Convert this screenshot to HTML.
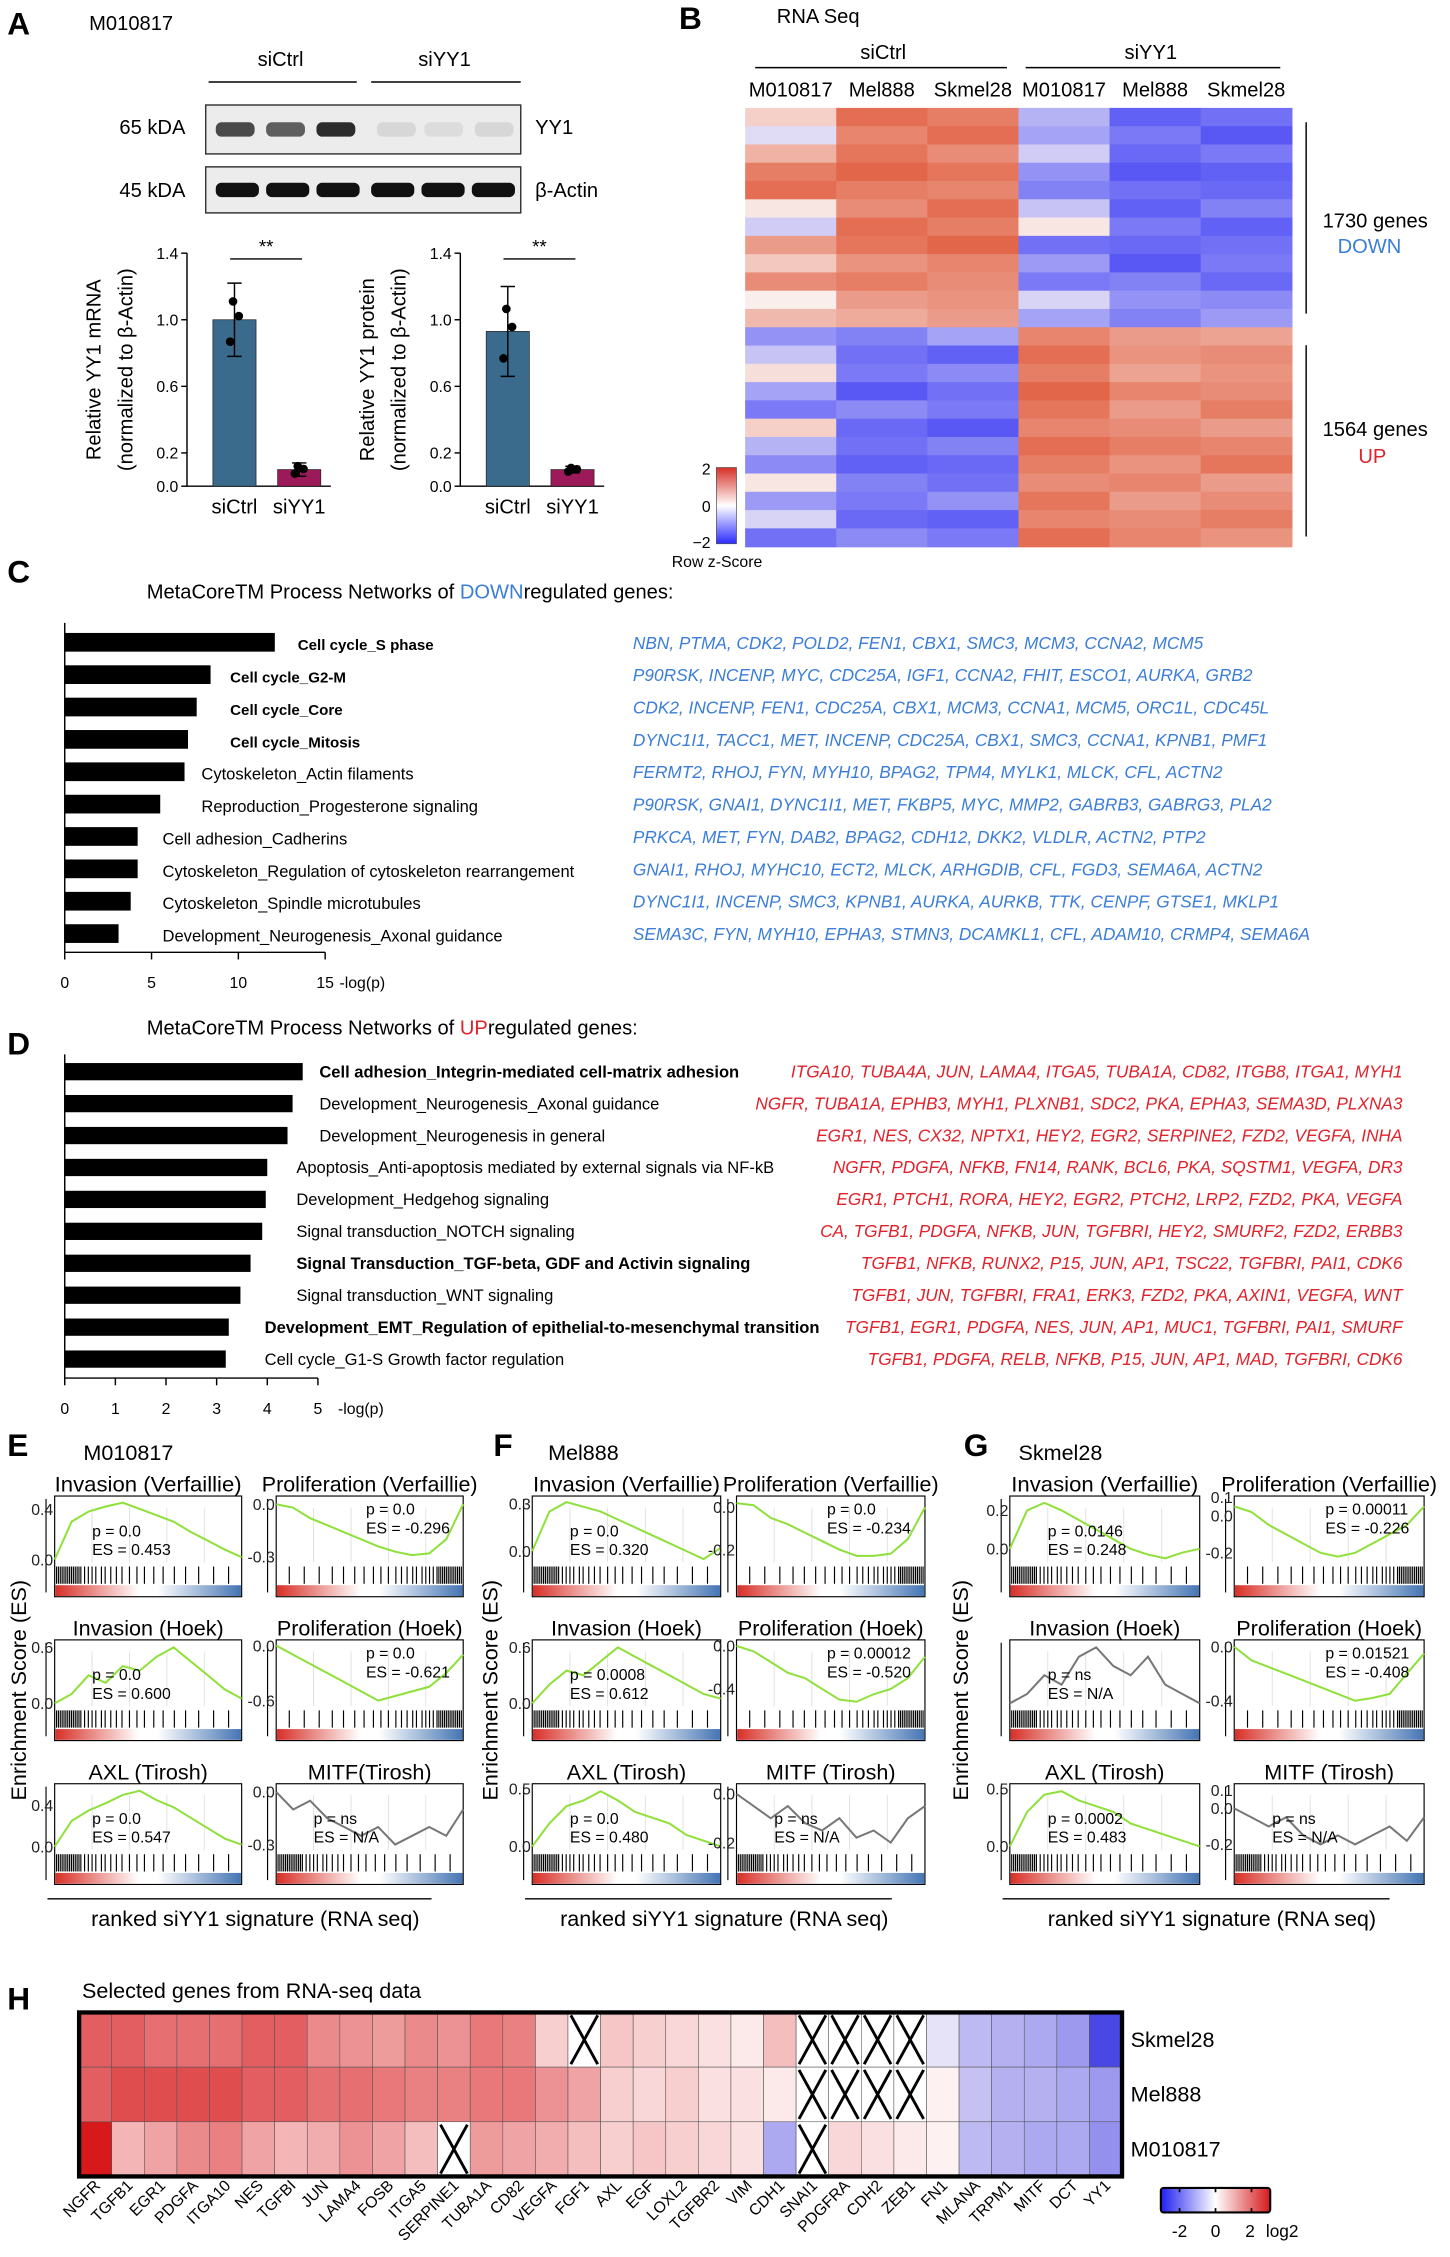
<!DOCTYPE html>
<html><head><meta charset="utf-8"><style>
html,body{margin:0;padding:0;background:#fff}
svg{display:block;font-family:"Liberation Sans",sans-serif}
</style></head><body>
<svg id="fig" width="1450" height="2257" viewBox="0 0 1008 1569" xmlns="http://www.w3.org/2000/svg">
<defs>
<linearGradient id="rankGrad" x1="0" x2="1" y1="0" y2="0"><stop offset="0" stop-color="#d73027"/><stop offset="0.45" stop-color="#ffffff"/><stop offset="0.55" stop-color="#ffffff"/><stop offset="1" stop-color="#4575b4"/></linearGradient>
<linearGradient id="zGrad" x1="0" x2="0" y1="0" y2="1"><stop offset="0" stop-color="#d73027"/><stop offset="0.5" stop-color="#ffffff"/><stop offset="1" stop-color="#2b2bff"/></linearGradient>
<linearGradient id="hGrad" x1="0" x2="1" y1="0" y2="0"><stop offset="0" stop-color="#2020f0"/><stop offset="0.5" stop-color="#ffffff"/><stop offset="1" stop-color="#d7191c"/></linearGradient>
</defs>
<g id="root"></g>
</svg>
<script>
// ---------- data ----------
const barCats = ['siCtrl','siYY1'];
const mrnaVals = [1.0, 0.1];
const mrnaErr = [0.22, 0.04];
const protVals = [0.93, 0.1];
const protErr = [0.27, 0.02];
const barTicks = [0.0, 0.2, 0.6, 1.0, 1.4];

const rnaCols = ['M010817','Mel888','Skmel28','M010817','Mel888','Skmel28'];
const rnaRows = [
[0.5,1.8,1.6,-0.8,-1.8,-1.6],[-0.3,1.5,1.8,-1.0,-1.5,-1.9],[0.9,1.7,1.4,-0.5,-1.7,-1.5],
[1.6,1.9,1.7,-1.2,-1.9,-1.8],[1.8,1.6,1.5,-1.4,-1.6,-1.7],[0.2,1.4,1.8,-0.6,-1.8,-1.4],
[-0.5,1.8,1.6,0.2,-1.5,-1.8],[1.2,1.7,1.9,-1.6,-1.7,-1.6],[0.6,1.3,1.5,-1.1,-1.9,-1.5],
[1.4,1.6,1.4,-1.5,-1.4,-1.7],[0.1,1.2,1.3,-0.4,-1.2,-1.3],[0.8,1.0,1.2,-1.0,-1.4,-1.1],
[-1.2,-1.4,-1.0,1.5,1.2,1.1],[-0.6,-1.6,-1.8,1.8,1.3,1.4],[0.3,-1.5,-1.3,1.6,1.1,1.3],
[-1.0,-1.9,-1.6,1.9,1.5,1.4],[-1.5,-1.3,-1.5,1.7,1.2,1.6],[0.5,-1.7,-1.9,1.5,1.4,1.2],
[-0.8,-1.6,-1.4,1.8,1.6,1.5],[-1.3,-1.8,-1.7,1.6,1.3,1.7],[0.2,-1.4,-1.6,1.4,1.5,1.2],
[-1.1,-1.5,-1.2,1.7,1.2,1.4],[-0.4,-1.7,-1.8,1.5,1.4,1.6],[-1.6,-1.3,-1.5,1.8,1.5,1.3]
];

const downCats = ['Cell cycle_S phase','Cell cycle_G2-M','Cell cycle_Core','Cell cycle_Mitosis','Cytoskeleton_Actin filaments','Reproduction_Progesterone signaling','Cell adhesion_Cadherins','Cytoskeleton_Regulation of cytoskeleton rearrangement','Cytoskeleton_Spindle microtubules','Development_Neurogenesis_Axonal guidance'];
const downVals = [12.1, 8.4, 7.6, 7.1, 6.9, 5.5, 4.2, 4.2, 3.8, 3.1];
const downGenes = ['NBN, PTMA, CDK2, POLD2, FEN1, CBX1, SMC3, MCM3, CCNA2, MCM5','P90RSK, INCENP, MYC, CDC25A, IGF1, CCNA2, FHIT, ESCO1, AURKA, GRB2','CDK2, INCENP, FEN1, CDC25A, CBX1, MCM3, CCNA1, MCM5, ORC1L, CDC45L','DYNC1I1, TACC1, MET, INCENP, CDC25A, CBX1, SMC3, CCNA1, KPNB1, PMF1','FERMT2, RHOJ, FYN, MYH10, BPAG2, TPM4, MYLK1, MLCK, CFL, ACTN2','P90RSK, GNAI1, DYNC1I1, MET, FKBP5, MYC, MMP2, GABRB3, GABRG3, PLA2','PRKCA, MET, FYN, DAB2, BPAG2, CDH12, DKK2, VLDLR, ACTN2, PTP2','GNAI1, RHOJ, MYHC10, ECT2, MLCK, ARHGDIB, CFL, FGD3, SEMA6A, ACTN2','DYNC1I1, INCENP, SMC3, KPNB1, AURKA, AURKB, TTK, CENPF, GTSE1, MKLP1','SEMA3C, FYN, MYH10, EPHA3, STMN3, DCAMKL1, CFL, ADAM10, CRMP4, SEMA6A'];
const downBold = [1,1,1,1,0,0,0,0,0,0];
const downTicks = [0,5,10,15];

const upCats = ['Cell adhesion_Integrin-mediated cell-matrix adhesion','Development_Neurogenesis_Axonal guidance','Development_Neurogenesis in general','Apoptosis_Anti-apoptosis mediated by external signals via NF-kB','Development_Hedgehog signaling','Signal transduction_NOTCH signaling','Signal Transduction_TGF-beta, GDF and Activin signaling','Signal transduction_WNT signaling','Development_EMT_Regulation of epithelial-to-mesenchymal transition','Cell cycle_G1-S Growth factor regulation'];
const upVals = [4.7, 4.5, 4.4, 4.0, 3.97, 3.9, 3.67, 3.47, 3.24, 3.18];
const upGenes = ['ITGA10, TUBA4A, JUN, LAMA4, ITGA5, TUBA1A, CD82, ITGB8, ITGA1, MYH1','NGFR, TUBA1A, EPHB3, MYH1, PLXNB1, SDC2, PKA, EPHA3, SEMA3D, PLXNA3','EGR1, NES, CX32, NPTX1, HEY2, EGR2, SERPINE2, FZD2, VEGFA, INHA','NGFR, PDGFA, NFKB, FN14, RANK, BCL6, PKA, SQSTM1, VEGFA, DR3','EGR1, PTCH1, RORA, HEY2, EGR2, PTCH2, LRP2, FZD2, PKA, VEGFA','CA, TGFB1, PDGFA, NFKB, JUN, TGFBRI, HEY2, SMURF2, FZD2, ERBB3','TGFB1, NFKB, RUNX2, P15, JUN, AP1, TSC22, TGFBRI, PAI1, CDK6','TGFB1, JUN, TGFBRI, FRA1, ERK3, FZD2, PKA, AXIN1, VEGFA, WNT','TGFB1, EGR1, PDGFA, NES, JUN, AP1, MUC1, TGFBRI, PAI1, SMURF','TGFB1, PDGFA, RELB, NFKB, P15, JUN, AP1, MAD, TGFBRI, CDK6'];
const upBold = [1,0,0,0,0,0,1,0,1,0];
const upLabelX = [222,222,222,206,206,206,206,206,184,184];
const upTicks = [0,1,2,3,4,5];

const gseaTitles = ['Invasion (Verfaillie)','Proliferation (Verfaillie)','Invasion (Hoek)','Proliferation (Hoek)','AXL (Tirosh)','MITF(Tirosh)'];
const gseaP = [['0.0','0.0','0.0','0.0','0.0','ns'],['0.0','0.0','0.0008','0.00012','0.0','ns'],['0.0146','0.00011','ns','0.01521','0.0002','ns']];
const gseaES = [['0.453','-0.296','0.600','-0.621','0.547','N/A'],['0.320','-0.234','0.612','-0.520','0.480','N/A'],['0.248','-0.226','N/A','-0.408','0.483','N/A']];
const gseaCurves = [
 [[0,0.3,0.38,0.42,0.45,0.40,0.35,0.30,0.22,0.15,0.08,0.02],
  [0,-0.02,-0.08,-0.12,-0.16,-0.20,-0.24,-0.27,-0.29,-0.28,-0.2,0],
  [0,0.1,0.3,0.22,0.4,0.35,0.5,0.6,0.45,0.3,0.15,0.05],
  [0,-0.1,-0.2,-0.3,-0.4,-0.5,-0.6,-0.55,-0.5,-0.45,-0.3,-0.1],
  [0,0.25,0.35,0.42,0.5,0.54,0.45,0.38,0.28,0.18,0.08,0.02],
  [0,-0.1,-0.05,-0.15,-0.2,-0.25,-0.2,-0.3,-0.25,-0.2,-0.25,-0.1]],
 [[0,0.25,0.31,0.28,0.25,0.2,0.15,0.1,0.05,0,-0.05,0.02],
  [0.02,0.01,-0.05,-0.08,-0.12,-0.16,-0.2,-0.23,-0.23,-0.22,-0.15,0],
  [0,0.2,0.35,0.3,0.45,0.6,0.5,0.4,0.3,0.2,0.1,0.05],
  [0,-0.05,-0.15,-0.25,-0.3,-0.4,-0.5,-0.52,-0.45,-0.4,-0.3,-0.1],
  [0,0.2,0.35,0.4,0.48,0.4,0.3,0.25,0.2,0.1,0.05,0],
  [0,-0.05,-0.1,-0.05,-0.12,-0.15,-0.1,-0.18,-0.15,-0.2,-0.1,-0.05]],
 [[0,0.2,0.24,0.2,0.15,0.1,0.05,0,-0.03,-0.05,-0.02,0],
  [0.05,0.02,-0.05,-0.1,-0.15,-0.2,-0.22,-0.2,-0.15,-0.1,-0.05,0.05],
  [0,0.1,0.3,0.2,0.5,0.6,0.4,0.3,0.5,0.2,0.1,0],
  [0,-0.1,-0.15,-0.2,-0.25,-0.3,-0.35,-0.4,-0.38,-0.35,-0.2,-0.05],
  [0,0.3,0.45,0.48,0.4,0.35,0.3,0.2,0.15,0.1,0.05,0],
  [0,-0.05,-0.1,-0.05,-0.15,-0.2,-0.15,-0.2,-0.15,-0.1,-0.18,-0.05]]];
const gseaRange = [
 [[-0.02,0.48],[-0.33,0.03],[-0.03,0.65],[-0.66,0.03],[-0.03,0.58],[-0.33,0.03]],
 [[-0.07,0.33],[-0.26,0.04],[-0.03,0.65],[-0.56,0.03],[-0.03,0.52],[-0.23,0.03]],
 [[-0.07,0.26],[-0.25,0.09],[-0.03,0.65],[-0.44,0.03],[-0.03,0.52],[-0.23,0.12]]];
const gseaTicks = [
 [[0.4,0],[0,-0.3],[0.6,0],[0,-0.6],[0.4,0],[0,-0.3]],
 [[0.3,0],[0,-0.2],[0.6,0],[0,-0.4],[0.5,0],[0,-0.2]],
 [[0.2,0],[0.1,0,-0.2],[],[0,-0.4],[0.5,0],[0.1,0,-0.2]]];
const barcode = [0.01,0.02,0.03,0.04,0.05,0.06,0.07,0.08,0.09,0.1,0.11,0.12,0.13,0.14,0.16,0.18,0.2,0.22,0.25,0.27,0.3,0.33,0.36,0.4,0.44,0.48,0.53,0.58,0.64,0.7,0.77,0.85,0.93];

const hGenes = ['NGFR','TGFB1','EGR1','PDGFA','ITGA10','NES','TGFBI','JUN','LAMA4','FOSB','ITGA5','SERPINE1','TUBA1A','CD82','VEGFA','FGF1','AXL','EGF','LOXL2','TGFBR2','VIM','CDH1','SNAI1','PDGFRA','CDH2','ZEB1','FN1','MLANA','TRPM1','MITF','DCT','YY1'];
const hRows = ['Skmel28','Mel888','M010817'];
const hSkmel = [1.8,1.8,1.6,1.6,1.6,1.8,1.8,1.3,1.2,1.1,1.3,1.2,1.5,1.4,0.5,null,0.6,0.5,0.4,0.3,0.2,0.7,null,null,null,null,-0.3,-0.8,-0.9,-1.0,-1.2,-2.2];
const hMel = [1.8,2.0,2.0,2.0,2.0,1.8,1.8,1.6,1.6,1.5,1.4,1.4,1.5,1.5,1.2,1.0,0.5,0.4,0.5,0.3,0.3,0.2,null,null,null,null,0.1,-0.7,-0.9,-0.9,-1.0,-1.2];
const hM01 = [2.8,0.8,1.0,1.3,1.4,1.0,0.8,0.9,1.2,1.0,0.7,null,1.1,1.0,0.9,0.7,0.5,0.6,0.5,0.4,0.3,-1.0,null,0.4,0.3,0.2,0.1,-0.8,-0.9,-1.0,-1.0,-1.3];

// ---------- helpers ----------
const NS='http://www.w3.org/2000/svg';
const root=document.getElementById('root');
function mk(tag,attrs,parent){const e=document.createElementNS(NS,tag);for(const k in attrs)e.setAttribute(k,attrs[k]);(parent||root).appendChild(e);return e;}
function txt(s,x,y,size,opts,parent){opts=opts||{};const e=mk('text',Object.assign({x:x,y:y,'font-size':size,fill:opts.fill||'#000'},opts.a||{}),parent);e.textContent=s;return e;}
function lerp(a,b,t){return Math.round(a+(b-a)*t);}
function divColor(v,lo,mid,hi,max){const t=Math.max(-1,Math.min(1,v/max));const c=t>=0?hi:lo;const u=Math.abs(t);return 'rgb('+lerp(mid[0],c[0],u)+','+lerp(mid[1],c[1],u)+','+lerp(mid[2],c[2],u)+')';}

// ---------- Panel A ----------
let e;
e=txt('A',5,24,22,{a:{'font-weight':'bold'}});
e=txt('M010817',62,21,14);
e=txt('siCtrl',195,46,14,{a:{'text-anchor':'middle'}});
e=mk('line',{x1:145,x2:248,y1:57,y2:57,stroke:'#000'});
e=txt('siYY1',309,46,14,{a:{'text-anchor':'middle'}});
e=mk('line',{x1:258,x2:362,y1:57,y2:57,stroke:'#000'});
e=mk('rect',{x:143,y:73,width:219,height:34,fill:'#ececec',stroke:'#333'});
const yy1Bands=[[150,0.8],[185,0.7],[220,0.95],[262,0.1],[295,0.08],[330,0.1]];
yy1Bands.forEach((b,i)=>{const r=mk('rect',{x:b[0],y:85,width:27,height:10,rx:4,fill:'#222','fill-opacity':b[1]});});
e=mk('rect',{x:143,y:116,width:219,height:32,fill:'#ececec',stroke:'#333'});
[150,185,220,258,293,328].forEach(x=>{const r=mk('rect',{x:x,y:127,width:30,height:10,rx:4,fill:'#111'});});
e=txt('65 kDA',83,93,14);
e=txt('45 kDA',83,137,14);
e=txt('YY1',372,93,14);
e=txt('β-Actin',372,137,14);

function barChart(ax,vals,errs,title1,title2,name){
  const y0=338,y1=176,vmax=1.4;const sy=v=>y0-(v/vmax)*(y0-y1);
  const g=mk('g',{});
  let l=mk('line',{x1:ax,x2:ax,y1:y1,y2:y0,stroke:'#000'},g);
  l=mk('line',{x1:ax,x2:ax+100,y1:y0,y2:y0,stroke:'#000'},g);
  barTicks.forEach(t=>{const tl=mk('line',{x1:ax-4,x2:ax,y1:sy(t),y2:sy(t),stroke:'#000'},g);
    const tt=txt(t.toFixed(1),ax-6,sy(t)+4,11,{a:{'text-anchor':'end'}},g);});
  const cols=['#3a6a8c','#9c1a5a'];
  vals.forEach((v,i)=>{const cx=ax+33+i*45;
    const r=mk('rect',{x:cx-15,y:sy(v),width:30,height:y0-sy(v),fill:cols[i],stroke:'#222','stroke-width':0.5},g);
    const eb=mk('path',{d:`M${cx},${sy(v+errs[i])}V${sy(Math.max(0,v-errs[i]))}M${cx-5},${sy(v+errs[i])}H${cx+5}M${cx-5},${sy(Math.max(0,v-errs[i]))}H${cx+5}`,stroke:'#000',fill:'none'},g);
    [-0.12,0.02,0.1].forEach((d,k)=>{const c=mk('circle',{cx:cx+[-3,3,-1][k],cy:sy(v+d*(errs[i]/0.2)),r:3,fill:'#000'},g);});
    const lt=txt(barCats[i],cx,357,14,{a:{'text-anchor':'middle'}},g);});
  const s=mk('line',{x1:ax+30,x2:ax+80,y1:180,y2:180,stroke:'#000'},g);
  const st=txt('**',ax+55,176,13,{a:{'text-anchor':'middle'}},g);
  let t1=txt(title1,0,0,14,{a:{'text-anchor':'middle',transform:`translate(${ax-60},257) rotate(-90)`}},g);
  t1=txt(title2,0,0,14,{a:{'text-anchor':'middle',transform:`translate(${ax-38},257) rotate(-90)`}},g);
}
barChart(130,mrnaVals,mrnaErr,'Relative YY1 mRNA','(normalized to β-Actin)','mrna-bar-chart');
barChart(320,protVals,protErr,'Relative YY1 protein','(normalized to β-Actin)','protein-bar-chart');

// ---------- Panel B ----------
e=txt('B',472,20,22,{a:{'font-weight':'bold'}});
e=txt('RNA Seq',540,16,14);
e=txt('siCtrl',614,41,14,{a:{'text-anchor':'middle'}});
e=mk('line',{x1:525,x2:700,y1:47,y2:47,stroke:'#000'});
e=txt('siYY1',800,41,14,{a:{'text-anchor':'middle'}});
e=mk('line',{x1:713,x2:890,y1:47,y2:47,stroke:'#000'});
const hbX0=518,hbX1=898,hbY0=75,hbY1=380;const cw=(hbX1-hbX0)/6,rh=(hbY1-hbY0)/rnaRows.length;
rnaCols.forEach((c,j)=>{const t=txt(c,hbX0+cw*(j+0.5),67,14,{a:{'text-anchor':'middle'}});});
rnaRows.forEach((row,i)=>row.forEach((v,j)=>{const r=mk('rect',{x:hbX0+j*cw,y:hbY0+i*rh,width:cw+0.5,height:rh+0.5,fill:divColor(v,[80,80,245],[250,245,245],[225,95,65],2)});}));
e=mk('path',{d:'M908,85V218M908,240V373',stroke:'#000'});
e=txt('1730 genes',956,158,14,{a:{'text-anchor':'middle'}});
e=txt('DOWN',952,176,14,{fill:'#3b7dd8',a:{'text-anchor':'middle'}});
e=txt('1564 genes',956,303,14,{a:{'text-anchor':'middle'}});
e=txt('UP',954,322,14,{fill:'#e0222a',a:{'text-anchor':'middle'}});
e=mk('rect',{x:498,y:325,width:14,height:53,fill:'url(#zGrad)',stroke:'#555','stroke-width':0.5});
[['2',330],['0',356],['−2',381]].forEach(p=>{const t=txt(p[0],494,p[1],11,{a:{'text-anchor':'end'}});});
e=txt('Row z-Score',467,394,11);

// ---------- Panel C ----------
e=txt('C',5,405,22,{a:{'font-weight':'bold'}});
e=mk('text',{x:102,y:416,'font-size':14});e.innerHTML='MetaCoreTM Process Networks of <tspan fill="#3b7dd8">DOWN</tspan>regulated genes:';
const cX0=45,cUnit=12.07;const cx=v=>cX0+v*cUnit;
const cLabelX=[207,160,160,160,140,140,113,113,113,113];
e=mk('line',{x1:cX0,x2:cX0,y1:433,y2:662,stroke:'#000'});
e=mk('line',{x1:cX0,x2:cx(15),y1:662,y2:662,stroke:'#000'});
downTicks.forEach(t=>{let l=mk('line',{x1:cx(t),x2:cx(t),y1:662,y2:667,stroke:'#000'});
  l=txt(String(t),cx(t),687,11,{a:{'text-anchor':'middle'}});});
e=txt('-log(p)',236,687,11);
downCats.forEach((c,i)=>{const y=447+i*22.5;
  let r=mk('rect',{x:cX0,y:y-7,width:cx(downVals[i])-cX0,height:13,fill:'#000'});
  r=txt(c,cLabelX[i],y+5,downBold[i]?10.5:11.5,{a:{'font-weight':downBold[i]?'bold':'normal'}});
  r=txt(downGenes[i],440,y+4,12,{fill:'#3b7dd8',a:{'font-style':'italic'}});});

// ---------- Panel D ----------
e=txt('D',5,733,22,{a:{'font-weight':'bold'}});
e=mk('text',{x:102,y:719,'font-size':14});e.innerHTML='MetaCoreTM Process Networks of <tspan fill="#e0222a">UP</tspan>regulated genes:';
const dX0=45,dUnit=35.2;const dx=v=>dX0+v*dUnit;
e=mk('line',{x1:dX0,x2:dX0,y1:733,y2:958,stroke:'#000'});
e=mk('line',{x1:dX0,x2:dx(5),y1:958,y2:958,stroke:'#000'});
upTicks.forEach(t=>{let l=mk('line',{x1:dx(t),x2:dx(t),y1:958,y2:963,stroke:'#000'});
  l=txt(String(t),dx(t),983,11,{a:{'text-anchor':'middle'}});});
e=txt('-log(p)',235,983,11);
upCats.forEach((c,i)=>{const y=745+i*22.2;
  let r=mk('rect',{x:dX0,y:y-6,width:dx(upVals[i])-dX0,height:12,fill:'#000'});
  r=txt(c,upLabelX[i],y+4,11.5,{a:{'font-weight':upBold[i]?'bold':'normal'}});
  r=txt(upGenes[i],975,y+4,12,{fill:'#e0222a',a:{'font-style':'italic','text-anchor':'end'}});});

// ---------- Panels E/F/G ----------
const groupLetters=['E','F','G'],groupNames=['M010817','Mel888','Skmel28'];
const groupX=[[38,192],[370,512],[702,858]],groupLetterX=[5,343,670];
const rowY=[1040,1140,1240],boxW=[130,131,132];
const titleLen=[130,150,0,0,0,0];
groupLetters.forEach((L,gi)=>{
  let t=txt(L,groupLetterX[gi],1012,22,{a:{'font-weight':'bold'}});
  t=txt(groupNames[gi],groupLetterX[gi]+(gi==0?53:38),1015,15);
  t=txt('Enrichment Score (ES)',0,0,15,{a:{'text-anchor':'middle',transform:`translate(${groupLetterX[gi]+(gi==0?13:3)},1175) rotate(-90)`}});
  const xs=groupX[gi][0]-5;
  t=mk('line',{x1:xs,x2:groupX[gi][1]+108,y1:1320,y2:1320,stroke:'#000'});
  t=txt('ranked siYY1 signature (RNA seq)',(xs+groupX[gi][1]+130)/2,1339,15,{a:{'text-anchor':'middle'}});
  for(let k=0;k<6;k++){
    const col=k%2,row=Math.floor(k/2);const x0=groupX[gi][col],y0=rowY[row],w=boxW[gi],h=70;
    const g=mk('g',{});
    const tattr={'text-anchor':'middle'};if(titleLen[k]){tattr.textLength=titleLen[k];tattr.lengthAdjust='spacingAndGlyphs';}
    let a=txt(gseaTitles[k].replace('MITF(','MITF'+(gi==0?'(':' (')).replace('AXL (',gi==0?'AXL (':'AXL  ('),x0+w/2,y0-3,15,{a:tattr},g);
    a=mk('rect',{x:x0,y:y0,width:w,height:h,fill:'#fff',stroke:'#000','stroke-width':0.8},g);
    const rng=gseaRange[gi][k];const cTop=y0+2,cBot=y0+46;const sy=v=>cBot-(v-rng[0])/(rng[1]-rng[0])*(cBot-cTop);
    [0.2,0.4,0.6,0.8].forEach(f=>{const gl=mk('line',{x1:x0+w*f,x2:x0+w*f,y1:y0+8,y2:cBot,stroke:'#ddd','stroke-width':0.6},g);});
    a=mk('line',{x1:x0-6,x2:x0-6,y1:cTop,y2:y0+h-3,stroke:'#000','stroke-width':0.8},g);
    gseaTicks[gi][k].forEach(tv=>{const tl=txt(tv.toFixed(1),x0-1,sy(tv)+4,11,{fill:'#222',a:{'text-anchor':'end'}},g);});
    const cv=gseaCurves[gi][k];const isNA=gseaES[gi][k]==='N/A';
    const pts=cv.map((v,i)=>(x0+w*i/(cv.length-1)).toFixed(1)+','+sy(v).toFixed(1)).join(' ');
    a=mk('polyline',{points:pts,fill:'none',stroke:isNA?'#777':'#8fe03a','stroke-width':1.4},g);
    const neg=gseaES[gi][k].startsWith('-');
    barcode.forEach(b=>{const bx=x0+w*(neg?1-b:b);const bl=mk('line',{x1:bx,x2:bx,y1:y0+49,y2:y0+61,stroke:'#000','stroke-width':0.8},g);});
    a=mk('rect',{x:x0+0.5,y:y0+62,width:w-1,height:7.5,fill:'url(#rankGrad)'},g);
    const tx=neg?x0+w*0.48:x0+w*0.2,ty=neg?y0+13:y0+28;
    a=txt('p = '+gseaP[gi][k],tx,ty,11,{},g);
    a=txt('ES = '+gseaES[gi][k],tx,ty+13,11,{},g);
  }
});

// ---------- Panel H ----------
e=txt('H',5,1397,22,{a:{'font-weight':'bold'}});
e=txt('Selected genes from RNA-seq data',57,1389,15);
const hX0=55,hX1=780,hY0=1399,hY1=1513;const hcw=(hX1-hX0)/hGenes.length,hrh=(hY1-hY0)/3;
const hData=[hSkmel,hMel,hM01];
hData.forEach((row,i)=>row.forEach((v,j)=>{const x=hX0+j*hcw,y=hY0+i*hrh;
  const r=mk('rect',{x:x,y:y,width:hcw,height:hrh,fill:v===null?'#fff':divColor(v,[40,40,225],[255,250,250],[215,25,28],2.6),stroke:'#555','stroke-width':0.4});
  if(v===null){const xm=mk('path',{d:`M${x+2},${y+2}L${x+hcw-2},${y+hrh-2}M${x+hcw-2},${y+2}L${x+2},${y+hrh-2}`,stroke:'#000','stroke-width':2},root);}
}));
e=mk('rect',{x:hX0,y:hY0,width:hX1-hX0,height:hY1-hY0,fill:'none',stroke:'#000','stroke-width':3});
hRows.forEach((n,i)=>{const t=txt(n,786,hY0+hrh*(i+0.5)+5,15);});
hGenes.forEach((n,j)=>{const x=hX0+hcw*(j+0.5)+4;const t=txt(n,0,0,11,{a:{'text-anchor':'end',transform:`translate(${x},1520) rotate(-45)`}});});
e=mk('rect',{x:807,y:1521,width:76,height:17,rx:2,fill:'url(#hGrad)',stroke:'#000','stroke-width':1.5});
[820,845,870].forEach(x=>{const tk=mk('path',{d:`M${x},1521v3M${x},1538v-3`,stroke:'#000','stroke-width':1.2});});
[['-2',820],['0',845],['2',869]].forEach(p=>{const t=txt(p[0],p[1],1555,12,{a:{'text-anchor':'middle'}});});
e=txt('log2',880,1555,12);
</script>
</body></html>
